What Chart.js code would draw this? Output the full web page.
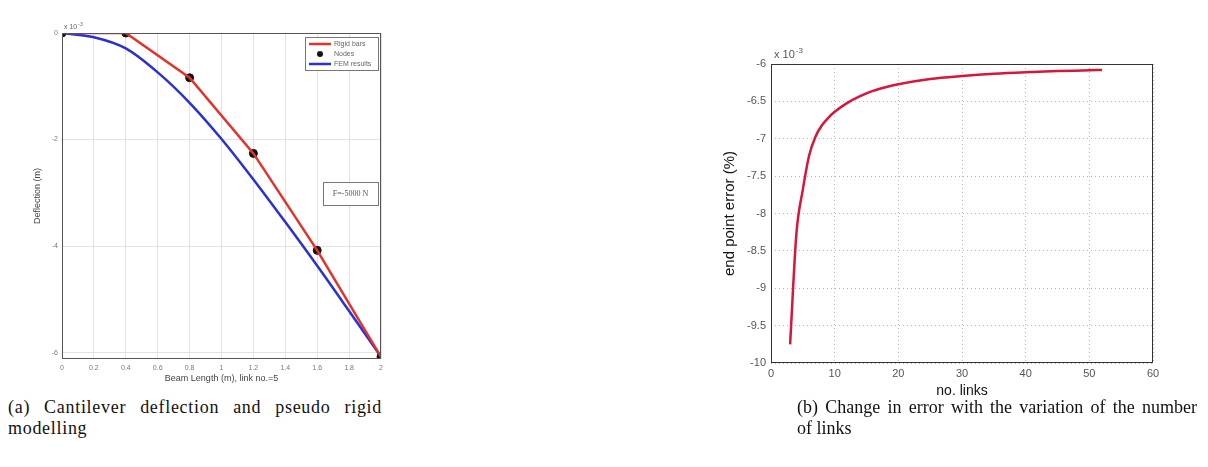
<!DOCTYPE html>
<html>
<head>
<meta charset="utf-8">
<script src="https://cdn.jsdelivr.net/npm/chart.js@4.4.0/dist/chart.umd.min.js"></script>
<style>
body { margin: 0; background: #fff; width: 1208px; height: 467px; position: relative; overflow: hidden; }
#wrapA { position: absolute; left: 0; top: 0; width: 400px; height: 392px; }
#wrapB { position: absolute; left: 700px; top: 30px; width: 480px; height: 380px; }
.cap { position: absolute; font: 18px "Liberation Serif", serif; color: #111; line-height: 21px; }
.cap .j { text-align: justify; text-align-last: justify; white-space: nowrap; }
</style>
</head>
<body>
<div id="wrapA"><canvas id="chartA" width="400" height="392"></canvas></div>
<div id="wrapB"><canvas id="chartB" width="480" height="380"></canvas></div>
<div class="cap" style="left:8px;top:397px;width:374px">
  <div class="j" style="letter-spacing:0.7px">(a) Cantilever deflection and pseudo rigid</div>
  <div style="letter-spacing:0.7px">modelling</div>
</div>
<div class="cap" style="left:797px;top:397px;width:400px">
  <div class="j">(b) Change in error with the variation of the number</div>
  <div>of links</div>
</div>
<script>
// (a) cantilever deflection, values in 1e-3 m
const nodeX = [0, 0.4, 0.8, 1.2, 1.6, 2.0];
const nodeY = [0, 0, -0.84, -2.26, -4.08, -6.08];
const femX = [0, 0.2, 0.4, 0.6, 0.8, 1.0, 1.2, 1.4, 1.6, 1.8, 2.0];
const femY = [0, -0.08, -0.29, -0.74, -1.31, -1.99, -2.75, -3.55, -4.37, -5.22, -6.08];
const beamTicksX = [0, 0.2, 0.4, 0.6, 0.8, 1, 1.2, 1.4, 1.6, 1.8, 2];
const beamTicksY = [0, -2, -4, -6];

// (b) end point error vs number of links, values in 1e-3 %
const linksX = [3, 4, 5, 6, 7, 8, 9, 10, 12, 14, 16, 18, 20, 25, 30, 35, 40, 45, 50, 52];
const errY = [-9.75, -8.26, -7.68, -7.22, -6.97, -6.82, -6.72, -6.64, -6.52, -6.43, -6.36, -6.31, -6.27, -6.2, -6.16, -6.13, -6.11, -6.095, -6.085, -6.08];
const linkTicksX = [0, 10, 20, 30, 40, 50, 60];
const errTicksY = [-6, -6.5, -7, -7.5, -8, -8.5, -9, -9.5, -10];

const sans = '"Liberation Sans", Arial, sans-serif';

function pts(xs, ys) {
    return xs.map((x, i) => ({ x: x, y: ys[i] }));
}

function setTicks(list) {
    return axis => { axis.ticks = list.map(v => ({ value: v })); };
}

function plain(value) {
    return String(+value.toFixed(2));
}

// frame + "x 10^-3" label
const framePlugin = {
    id: 'frame',
    afterDraw(chart, args, opts) {
        const ctx = chart.ctx;
        const a = chart.chartArea;
        ctx.save();
        ctx.strokeStyle = opts.color;
        ctx.lineWidth = 1;
        ctx.strokeRect(a.left + 0.5, a.top + 0.5, a.right - a.left - 1, a.bottom - a.top - 1);
        ctx.fillStyle = opts.textColor;
        ctx.textBaseline = 'alphabetic';
        ctx.textAlign = 'left';
        ctx.font = opts.expSize + 'px ' + sans;
        const ex = a.left + opts.expDx;
        const ey = a.top - opts.expDy;
        ctx.fillText('x 10', ex, ey);
        const w = ctx.measureText('x 10').width;
        ctx.font = Math.round(opts.expSize * 0.7) + 'px ' + sans;
        ctx.fillText('-3', ex + w + 1, ey - opts.expSize * 0.45);
        ctx.restore();
    }
};

// legend inside the plot and load note
const legendPlugin = {
    id: 'innerLegend',
    afterDraw(chart) {
        const ctx = chart.ctx;
        const ds = chart.data.datasets;
        const x0 = 305, y0 = 37, w = 73, h = 33;
        ctx.save();
        ctx.fillStyle = '#fff';
        ctx.fillRect(x0, y0, w, h);
        ctx.strokeStyle = '#777';
        ctx.lineWidth = 1;
        ctx.strokeRect(x0 + 0.5, y0 + 0.5, w, h);
        ctx.font = '7px ' + sans;
        ctx.textBaseline = 'middle';
        ds.forEach((d, i) => {
            const y = y0 + 7 + i * 10;
            if (d.showLine === false) {
                ctx.fillStyle = d.pointBackgroundColor;
                ctx.beginPath();
                ctx.arc(x0 + 15, y, 3, 0, Math.PI * 2);
                ctx.fill();
            } else {
                ctx.strokeStyle = d.borderColor;
                ctx.lineWidth = 2.5;
                ctx.beginPath();
                ctx.moveTo(x0 + 4, y);
                ctx.lineTo(x0 + 26, y);
                ctx.stroke();
            }
            ctx.fillStyle = '#666';
            ctx.fillText(d.label, x0 + 29, y);
        });
        ctx.fillStyle = '#fff';
        ctx.fillRect(323, 182, 55, 23);
        ctx.strokeStyle = '#777';
        ctx.lineWidth = 1;
        ctx.strokeRect(323.5, 182.5, 55, 23);
        ctx.fillStyle = '#555';
        ctx.font = '8px "Liberation Serif", serif';
        ctx.textAlign = 'center';
        ctx.fillText('F=-5000 N', 350.5, 194);
        ctx.restore();
    }
};

new Chart(document.getElementById('chartA'), {
    type: 'line',
    data: {
        datasets: [
            {
                label: 'Rigid bars',
                data: pts(nodeX, nodeY),
                borderColor: 'rgb(228,50,42)',
                borderWidth: 2.5,
                pointRadius: 0,
                tension: 0
            },
            {
                label: 'Nodes',
                data: pts(nodeX, nodeY),
                showLine: false,
                pointRadius: 4,
                pointBackgroundColor: '#111',
                pointBorderColor: '#111'
            },
            {
                label: 'FEM results',
                data: pts(femX, femY),
                borderColor: 'rgb(42,48,210)',
                borderWidth: 2.5,
                pointRadius: 0,
                cubicInterpolationMode: 'monotone'
            }
        ]
    },
    options: {
        responsive: false,
        animation: false,
        layout: { padding: { top: 33, right: 19, left: 0, bottom: 0 } },
        plugins: {
            legend: { display: false },
            tooltip: { enabled: false },
            frame: { color: '#555', textColor: '#666', expSize: 7, expDx: 2, expDy: 4 }
        },
        scales: {
            x: {
                type: 'linear',
                min: 0,
                max: 2,
                afterBuildTicks: setTicks(beamTicksX),
                afterFit: s => { s.height = 33; },
                grid: { color: '#e2e2e2', drawTicks: false },
                border: { display: false },
                ticks: { color: '#777', font: { size: 7, family: sans }, padding: 5, maxRotation: 0, autoSkip: false, callback: plain },
                title: { display: true, text: 'Beam Length (m), link no.=5', color: '#444', font: { size: 9, family: sans }, padding: { top: 0, bottom: 8 } }
            },
            y: {
                min: -6.12,
                max: 0,
                afterBuildTicks: setTicks(beamTicksY),
                afterFit: s => { s.width = 62; },
                grid: { color: '#e2e2e2', drawTicks: false },
                border: { display: false },
                ticks: { color: '#777', font: { size: 7, family: sans }, padding: 4, callback: plain },
                title: { display: true, text: 'Deflection (m)', color: '#444', font: { size: 9, family: sans }, padding: { top: 32, bottom: 0 } }
            }
        }
    },
    plugins: [framePlugin, legendPlugin]
});

new Chart(document.getElementById('chartB'), {
    type: 'line',
    data: {
        datasets: [{
            label: 'end point error',
            data: pts(linksX, errY),
            borderColor: 'rgb(214,22,58)',
            borderWidth: 2.5,
            pointRadius: 0,
            cubicInterpolationMode: 'monotone'
        }]
    },
    options: {
        responsive: false,
        animation: false,
        layout: { padding: { top: 34, right: 27, left: 0, bottom: 0 } },
        plugins: {
            legend: { display: false },
            tooltip: { enabled: false },
            frame: { color: '#333', textColor: '#555', expSize: 11, expDx: 3, expDy: 6 }
        },
        scales: {
            x: {
                type: 'linear',
                min: 0,
                max: 60,
                afterBuildTicks: setTicks(linkTicksX),
                afterFit: s => { s.height = 47; },
                grid: { color: '#b5b5b5', drawTicks: false },
                border: { display: false, dash: [1, 3] },
                ticks: { color: '#555', font: { size: 11, family: sans }, padding: 4, maxRotation: 0, callback: plain },
                title: { display: true, text: 'no. links', color: '#111', font: { size: 14, family: sans }, padding: { top: 0, bottom: 10 } }
            },
            y: {
                min: -10,
                max: -6,
                afterBuildTicks: setTicks(errTicksY),
                afterFit: s => { s.width = 71; },
                grid: { color: '#b5b5b5', drawTicks: false },
                border: { display: false, dash: [1, 3] },
                ticks: { color: '#555', font: { size: 11, family: sans }, padding: 5, callback: plain },
                title: { display: true, text: 'end point error (%)', color: '#111', font: { size: 15, family: sans }, padding: { top: 21, bottom: 0 } }
            }
        }
    },
    plugins: [framePlugin]
});
</script>
</body>
</html>
